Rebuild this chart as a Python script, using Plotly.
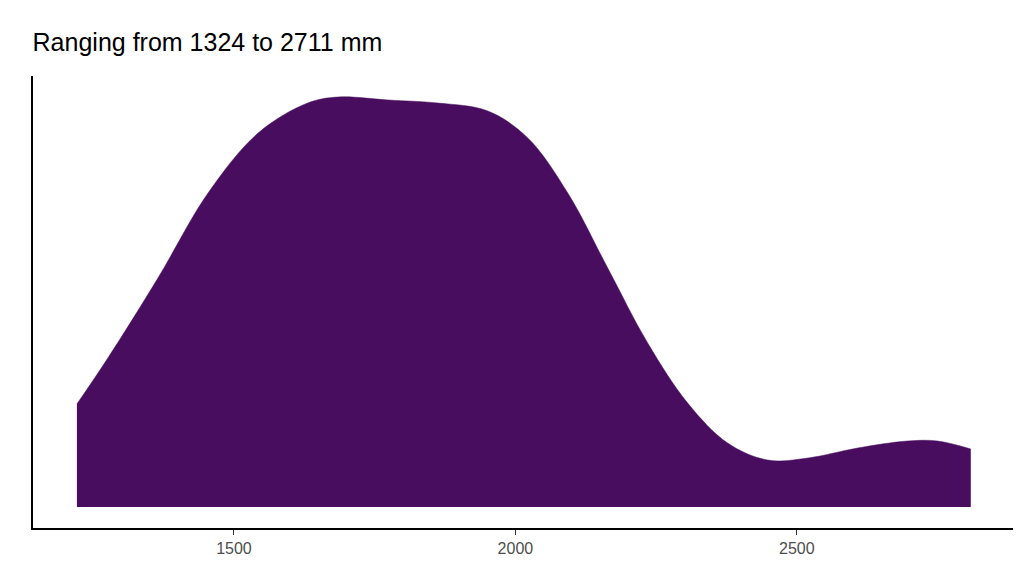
import plotly.graph_objects as go

x_mm = [1221,1276,1365,1454,1543,1631,1685,1774,1862,1951,2022,2093,2164,2235,2306,2377,2448,2520,2608,2697,2750,2809]
heights = [103,149,229,314,374,404,410,407,404,396,369,314,239,164,104,64,47,49,59,66,66,58]
density = [h*1.8e-6 for h in heights]
tick_vals = [1500, 2000, 2500]

fig = go.Figure(go.Scatter(
    x=x_mm, y=density, mode="lines", line=dict(color="#480d5e", width=0.5, shape="spline", smoothing=1.0),
    fill="tozeroy", fillcolor="#480d5e", hoverinfo="skip"))
fig.update_layout(
    width=1024, height=576, paper_bgcolor="white", plot_bgcolor="white",
    margin=dict(l=25, r=19, t=68, b=56), showlegend=False,
    title=dict(text="Ranging from 1324 to 2711 mm", x=0.024, xanchor="left", y=0.94, yanchor="middle",
               font=dict(family="Liberation Sans, Arial", size=25, color="black")),
    font=dict(family="Liberation Sans, Arial"),
)
fig.update_xaxes(range=[1143, 2884], tickvals=tick_vals, showgrid=False, zeroline=False,
                 showline=True, linecolor="black", linewidth=2, ticks="outside", ticklen=5,
                 tickcolor="#333", tickfont=dict(size=16, color="#4d4d4d"))
fig.update_yaxes(range=[-21*1.8e-6, 431*1.8e-6], showticklabels=False, showgrid=False, zeroline=False,
                 showline=True, linecolor="black", linewidth=2, ticks="")
fig.write_html("out.html")
